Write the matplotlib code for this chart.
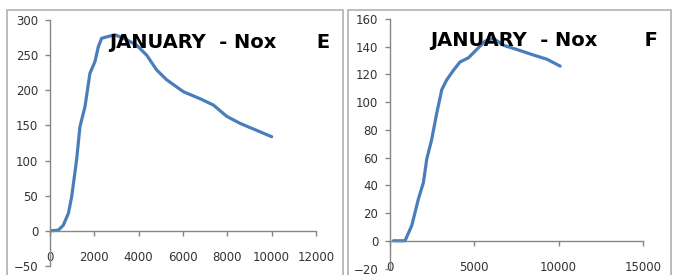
import matplotlib.pyplot as plt
from matplotlib.patches import Rectangle

# Panel E data (distance vs NOx)
e_x = [0, 375, 600, 830, 980, 1200, 1350, 1580, 1800, 2030, 2180, 2330, 2560, 2930,
       3460, 3910, 4360, 4810, 5260, 6015, 6770, 7370, 7970, 8570, 9470, 10000]
e_y = [0, 1, 8, 25, 49, 101, 148, 177, 224, 241, 262, 274, 276, 279,
       272, 264, 250, 229, 215, 198, 188, 179, 163, 153, 141, 134]

# Panel F data
f_x = [200, 890, 1290, 1680, 1980, 2180, 2470, 2770, 3070, 3360, 3760, 4150, 4650,
       5140, 5640, 6130, 6730, 7520, 8510, 9300, 10090]
f_y = [0, 0, 11, 30, 42, 59, 73, 92, 109, 116, 123, 129, 132,
       138, 144, 146, 141, 138, 134, 131, 126]

e_xticks = [0, 2000, 4000, 6000, 8000, 10000, 12000]
e_yticks = [-50, 0, 50, 100, 150, 200, 250, 300]
f_xticks = [0, 5000, 10000, 15000]
f_yticks = [-20, 0, 20, 40, 60, 80, 100, 120, 140, 160]

W, H = 680, 275
LINE = '#4A7EBB'
AXIS = '#868686'
TXT = '#333333'

fig = plt.figure(figsize=(W / 100, H / 100), dpi=100)
fig.patch.set_facecolor('white')

# chart borders
for x0, x1 in [(7, 343), (348, 671)]:
	fig.add_artist(Rectangle((x0 / W, -0.1), (x1 - x0) / W, 1.1 - 10 / H,
							 transform=fig.transFigure, fill=False, edgecolor='#B0B0B0', linewidth=1.2))


def make_panel(rect, xs, ys, xticks, yticks, title, title_pos):
	ax = fig.add_axes(rect)
	ax.plot(xs, ys, color=LINE, linewidth=2.3, solid_capstyle='round', solid_joinstyle='round')
	ax.set_xlim(xticks[0], xticks[-1])
	ax.set_ylim(yticks[0], yticks[-1])
	ax.set_xticks(xticks)
	ax.set_yticks(yticks)
	ax.spines['top'].set_visible(False)
	ax.spines['right'].set_visible(False)
	ax.spines['bottom'].set_position(('data', 0))
	for s in ('left', 'bottom'):
		ax.spines[s].set_color(AXIS)
		ax.spines[s].set_linewidth(1.0)
	ax.tick_params(axis='x', direction='out', length=3.5, width=1.0, color=AXIS,
				   labelsize=8.5, labelcolor=TXT, pad=11)
	ax.tick_params(axis='y', direction='out', length=3.5, width=1.0, color=AXIS,
				   labelsize=8.5, labelcolor=TXT, pad=5)
	ax.patch.set_alpha(0)
	fig.text(title_pos[0] / W, 1 - title_pos[1] / H, title, fontsize=14,
			 fontweight='bold', color='black', ha='left', va='center')
	return ax


make_panel([50 / W, 9 / H, 266 / W, 246 / H], e_x, e_y, e_xticks, e_yticks,
		   'JANUARY  - Nox      E', (109, 43))
make_panel([390 / W, 6.5 / H, 253 / W, 249.5 / H], f_x, f_y, f_xticks, f_yticks,
		   'JANUARY  - Nox       F', (430, 40))

fig.savefig('out.png', dpi=100)
